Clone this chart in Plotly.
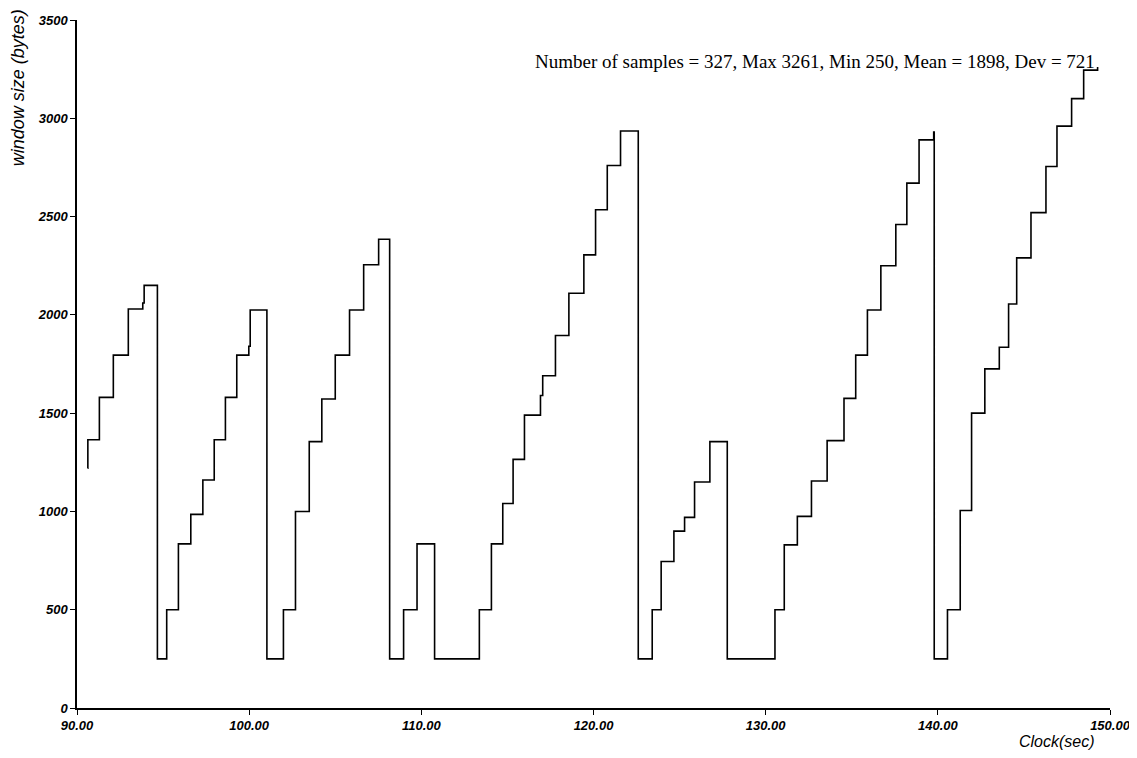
import plotly.graph_objects as go

# Step change points: time (s) and window size (bytes)
clock_sec = [
    90.62, 90.63, 91.30, 92.11, 92.98, 93.82, 93.90, 94.67, 95.21, 95.89,
    96.61, 97.31, 97.97, 98.62, 99.28, 99.98, 100.06, 101.03, 101.99, 102.69,
    103.49, 104.22, 105.00, 105.83, 106.65, 107.52, 108.16, 108.97, 109.75, 110.77,
    113.37, 114.07, 114.73, 115.33, 115.99, 116.92, 117.05, 117.79, 118.57, 119.44,
    120.12, 120.80, 121.57, 122.60, 123.41, 123.93, 124.67, 125.29, 125.87, 126.76,
    127.77, 130.54, 131.08, 131.84, 132.66, 133.57, 134.55, 135.23, 135.91, 136.69,
    137.56, 138.20, 138.91, 139.76, 139.79, 140.56, 141.30, 141.96, 142.73, 143.57,
    144.11, 144.58, 145.41, 146.28, 146.92, 147.77, 148.47, 149.28,
]
window_bytes = [
    1220, 1365, 1580, 1795, 2030, 2060, 2150, 250, 500, 835,
    985, 1160, 1365, 1580, 1795, 1840, 2025, 250, 500, 1000,
    1355, 1572, 1795, 2025, 2255, 2385, 250, 500, 835, 250,
    500, 835, 1040, 1265, 1490, 1590, 1690, 1895, 2110, 2305,
    2535, 2760, 2935, 250, 500, 745, 900, 970, 1150, 1355,
    250, 500, 830, 975, 1155, 1360, 1575, 1795, 2025, 2250,
    2460, 2670, 2890, 2930, 250, 500, 1005, 1500, 1725, 1835,
    2055, 2290, 2520, 2755, 2960, 3100, 3245, 3261,
]

x_ticks = [90, 100, 110, 120, 130, 140, 150]
x_tick_labels = ["90.00", "100.00", "110.00", "120.00", "130.00", "140.00", "150.00"]
y_ticks = [0, 500, 1000, 1500, 2000, 2500, 3000, 3500]
y_tick_labels = ["0", "500", "1000", "1500", "2000", "2500", "3000", "3500"]

stats_text = "Number of samples = 327, Max 3261, Min 250, Mean = 1898, Dev = 721"

fig = go.Figure()
fig.add_trace(go.Scatter(
    x=clock_sec, y=window_bytes, mode="lines",
    line=dict(color="black", width=1.6, shape="hv"),
    showlegend=False, hoverinfo="x+y",
))

tick_font = dict(family="Liberation Sans, Arial, sans-serif", size=13,
                 color="black", style="italic", weight="bold")

fig.update_layout(
    template="none",
    width=1137, height=758,
    margin=dict(l=69, r=35, t=12, b=58, autoexpand=False),
    paper_bgcolor="white", plot_bgcolor="white",
    xaxis=dict(
        range=[90, 150], tickvals=x_ticks, ticktext=x_tick_labels,
        showline=True, linecolor="black", linewidth=1.5, automargin=False,
        ticks="outside", ticklen=5, tickwidth=1, tickcolor="black",
        showgrid=False, zeroline=False, tickfont=tick_font,
    ),
    yaxis=dict(
        range=[0, 3500], tickvals=y_ticks, ticktext=y_tick_labels,
        showline=True, linecolor="black", linewidth=1.5, automargin=False,
        ticks="outside", ticklen=5, tickwidth=1, tickcolor="black",
        showgrid=False, zeroline=False, tickfont=tick_font,
    ),
    annotations=[
        dict(text=stats_text, xref="paper", yref="paper", x=0.987, y=0.939,
             xanchor="right", yanchor="middle", showarrow=False,
             font=dict(family="Liberation Serif, Times New Roman, serif", size=19, color="black")),
        dict(text="Clock(sec)", xref="paper", yref="paper", x=0.987, y=-0.048,
             xanchor="right", yanchor="middle", showarrow=False,
             font=dict(family="Liberation Sans, Arial, sans-serif", size=16,
                       color="black", style="italic")),
        dict(text="window size (bytes)", xref="paper", yref="paper", x=-0.057, y=0.901,
             xanchor="center", yanchor="middle", textangle=-90, showarrow=False,
             font=dict(family="Liberation Sans, Arial, sans-serif", size=18,
                       color="black", style="italic")),
    ],
)

fig.write_html("out.html")
